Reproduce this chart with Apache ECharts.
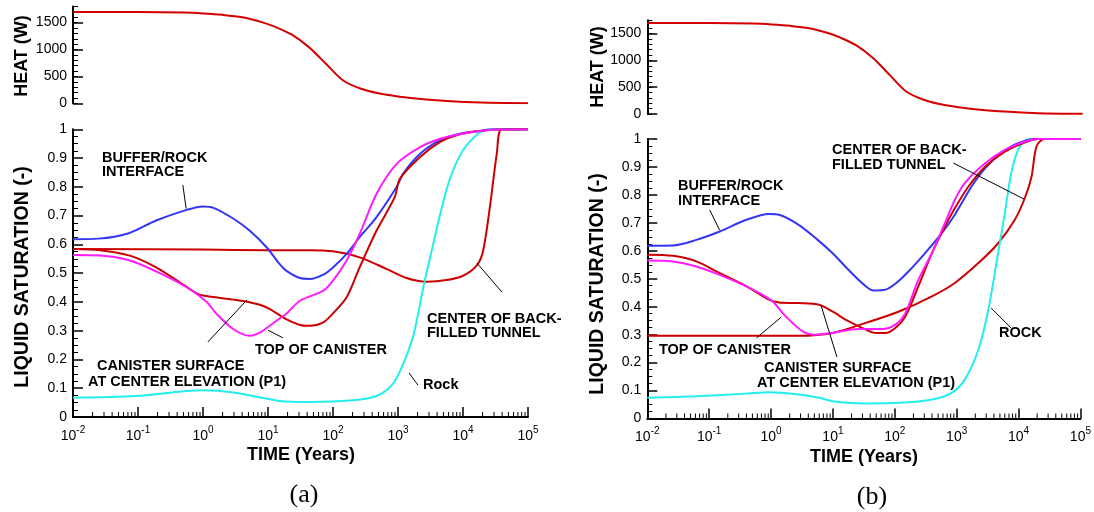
<!DOCTYPE html>
<html>
<head>
<meta charset="utf-8">
<script src="https://cdn.jsdelivr.net/npm/echarts@6/dist/echarts.min.js"></script>
<style>
  html, body { margin: 0; padding: 0; background: #fff; }
  #chart { width: 1094px; height: 512px; }
</style>
</head>
<body>
<div id="chart"></div>
<script>
// ---- Heat output of the canister, W, against time in years (same input for both cases)
const heatCurve = [[0.01,1700],[0.1,1698],[0.5,1688],[1,1672],[2,1645],[4,1600],[8,1510],[13,1420],[23,1280],[43,1040],[80,720],[145,420],[270,270],[500,185],[1000,125],[1700,95],[5600,45],[19000,15],[100000,3]];

// ---- Case (a): liquid saturation, [time (years), saturation]
const aBuffer = [[0.01,0.618],[0.025,0.62],[0.07,0.638],[0.19,0.683],[0.56,0.72],[1.0,0.732],[1.45,0.727],[2.95,0.689],[5.2,0.648],[9.5,0.59],[15,0.532],[19,0.509],[31,0.483],[44,0.48],[71,0.495],[100,0.52],[162,0.567],[257,0.625],[468,0.695],[955,0.8],[1200,0.846],[2190,0.915],[4470,0.962],[8900,0.985],[18200,0.994],[29500,1.0],[100000,1.0]];
const aTop = [[0.01,0.563],[0.026,0.561],[0.075,0.544],[0.19,0.506],[0.56,0.451],[1.14,0.4],[1.62,0.358],[2.95,0.305],[5.25,0.282],[7.6,0.294],[10.7,0.318],[15,0.342],[19,0.358],[31,0.404],[71,0.439],[100,0.474],[162,0.544],[257,0.636],[468,0.776],[955,0.88],[2190,0.938],[4470,0.967],[8900,0.983],[23000,0.997],[100000,1.0]];
const aSurface = [[0.01,0.584],[0.026,0.58],[0.075,0.561],[0.19,0.52],[0.56,0.452],[0.8,0.43],[1.0,0.422],[2.95,0.408],[5.0,0.4],[7.5,0.39],[10.7,0.375],[19,0.34],[31,0.32],[44,0.317],[71,0.329],[100,0.36],[162,0.416],[257,0.52],[468,0.648],[890,0.764],[1070,0.828],[2190,0.904],[4470,0.956],[8900,0.983],[23000,0.997],[100000,1.0]];
const aTunnel = [[0.01,0.584],[1,0.582],[10,0.58],[44,0.58],[100,0.576],[257,0.555],[660,0.515],[1350,0.483],[2750,0.47],[5600,0.476],[10000,0.491],[16200,0.526],[20400,0.578],[26300,0.741],[33100,0.915],[39800,1.0],[100000,1.0]];
const aRock = [[0.01,0.067],[0.09,0.073],[1.0,0.093],[2.95,0.085],[15,0.056],[44,0.052],[200,0.058],[468,0.073],[830,0.114],[1200,0.184],[1740,0.288],[2450,0.45],[2950,0.53],[4470,0.706],[6300,0.828],[10000,0.927],[18200,0.99],[25700,1.0],[100000,1.0]];

// ---- Case (b): liquid saturation, [time (years), saturation]
const bBuffer = [[0.01,0.618],[0.026,0.619],[0.062,0.639],[0.148,0.669],[0.4,0.711],[0.93,0.732],[1.35,0.729],[2.8,0.693],[5.6,0.64],[9.8,0.592],[17.8,0.532],[31.6,0.479],[45.7,0.458],[71,0.461],[102,0.482],[166,0.526],[309,0.592],[575,0.663],[933,0.729],[1740,0.83],[2880,0.895],[5250,0.949],[9800,0.985],[19500,1.0],[100000,1.0]];
const bTop = [[0.01,0.565],[0.026,0.562],[0.062,0.544],[0.148,0.514],[0.4,0.473],[0.72,0.443],[1.06,0.419],[1.74,0.365],[3.24,0.312],[5.25,0.3],[9.8,0.306],[25.7,0.32],[61.7,0.32],[102,0.336],[148,0.377],[240,0.496],[398,0.592],[646,0.699],[933,0.782],[1350,0.842],[2880,0.913],[6000,0.961],[12600,0.99],[20400,1.0],[100000,1.0]];
const bSurface = [[0.01,0.586],[0.026,0.582],[0.062,0.562],[0.148,0.52],[0.4,0.473],[0.93,0.425],[1.35,0.415],[2.8,0.413],[6.0,0.407],[9.8,0.383],[17.8,0.348],[33.9,0.318],[49,0.306],[71,0.306],[102,0.324],[148,0.365],[240,0.473],[398,0.592],[646,0.687],[933,0.752],[1550,0.83],[2880,0.901],[6000,0.955],[12600,0.987],[20400,1.0],[100000,1.0]];
const bTunnel = [[0.01,0.296],[1,0.296],[2.85,0.296],[9.8,0.306],[33.9,0.342],[117,0.383],[398,0.437],[933,0.485],[2240,0.556],[4680,0.627],[8700,0.711],[12600,0.788],[16200,0.865],[19500,0.973],[26300,1.0],[100000,1.0]];
const bRock = [[0.01,0.074],[0.062,0.08],[0.4,0.089],[0.93,0.094],[2.8,0.086],[6.0,0.074],[9.8,0.062],[33.9,0.054],[117,0.056],[398,0.068],[830,0.092],[1350,0.139],[2240,0.246],[3240,0.389],[4680,0.592],[6000,0.735],[7600,0.877],[9800,0.961],[12600,0.994],[16200,1.0],[100000,1.0]];

// ---- Minor tick positions on the logarithmic time axis (2..9 x each decade)
const minorTickYears = [];
for (let e = -2; e <= 4; e++) {
  for (let k = 2; k <= 9; k++) minorTickYears.push(k * Math.pow(10, e));
}

const BLUE = '#3535f5', MAGENTA = '#ff1aff', RED = '#cc0000', CYAN = '#22eeee';
const FONT = '"Liberation Sans", Arial, Helvetica, sans-serif';

const chart = echarts.init(document.getElementById('chart'), null, { renderer: 'canvas' });

function timeAxis(gridIndex, visible) {
  return {
    type: 'log', logBase: 10, min: 0.01, max: 100000, gridIndex: gridIndex,
    show: visible,
    axisLine: { show: true, onZero: false, lineStyle: { color: '#000', width: 2 } },
    axisTick: { show: true, inside: true, length: 10, lineStyle: { color: '#000', width: 1.5 } },
    splitLine: { show: false },
    axisLabel: {
      show: true, margin: 8, color: '#000',
      formatter: function (v) {
        const n = Math.round(Math.log10(v));
        return '{b|10}{s|' + n + '}';
      },
      rich: {
        b: { fontSize: 14, fontFamily: FONT, color: '#000', lineHeight: 18, verticalAlign: 'bottom' },
        s: { fontSize: 10, fontFamily: FONT, color: '#000', lineHeight: 18, verticalAlign: 'top' }
      }
    }
  };
}

function heatMajorAxis(gridIndex, maxW) {
  return {
    type: 'value', gridIndex: gridIndex, position: 'left', min: 0, max: maxW, interval: 500,
    axisLine: { show: true, onZero: false, lineStyle: { color: '#000', width: 2 } },
    axisTick: { show: true, inside: true, length: 10, lineStyle: { color: '#000', width: 1.5 } },
    axisLabel: { show: true, showMaxLabel: false, margin: 6, color: '#000', fontSize: 14, fontFamily: FONT,
      formatter: function (v) { return String(v); } },
    splitLine: { show: false }
  };
}
function heatMinorAxis(gridIndex, maxW) {
  return {
    type: 'value', gridIndex: gridIndex, position: 'left', offset: 0, min: 0, max: maxW, interval: 100,
    axisLine: { show: false },
    axisTick: { show: true, inside: true, length: 5, lineStyle: { color: '#000', width: 1 } },
    axisLabel: { show: false },
    splitLine: { show: false }
  };
}
function satAxis(gridIndex) {
  return {
    type: 'value', gridIndex: gridIndex, position: 'left', min: 0, max: 1, interval: 0.1,
    axisLine: { show: true, onZero: false, lineStyle: { color: '#000', width: 2 } },
    axisTick: { show: true, inside: true, length: 10, lineStyle: { color: '#000', width: 1.5 } },
    minorTick: { show: true, splitNumber: 4, length: 5, lineStyle: { color: '#000', width: 1 } },
    axisLabel: {
      margin: 6, color: '#000', fontSize: 14, fontFamily: FONT,
      formatter: function (v) { return (v === 0 || v === 1) ? String(v) : v.toFixed(1); }
    },
    splitLine: { show: false }
  };
}

function curve(data, color, xi, yi) {
  return {
    type: 'line', data: data, xAxisIndex: xi, yAxisIndex: yi,
    showSymbol: false, smooth: 0.3, silent: true,
    lineStyle: { color: color, width: 2 }, z: 3
  };
}
function minorTicks(xi, yi) {
  return {
    type: 'custom', xAxisIndex: xi, yAxisIndex: yi, silent: true, clip: false, z: 5,
    data: minorTickYears.map(function (t) { return [t, 0]; }),
    renderItem: function (params, api) {
      const p = api.coord([api.value(0), 0]);
      return {
        type: 'line',
        shape: { x1: p[0], y1: p[1], x2: p[0], y2: p[1] - 5 },
        style: { stroke: '#000', lineWidth: 1 }
      };
    }
  };
}

chart.setOption({
  animation: false,
  backgroundColor: '#fff',
  grid: [
    { left: 73, top: 6.5, width: 455, height: 96.8 },
    { left: 73, top: 129.3, width: 455, height: 287.7 },
    { left: 647.3, top: 20.2, width: 435.4, height: 93.8 },
    { left: 647.3, top: 139, width: 435.4, height: 279.5 }
  ],
  xAxis: [timeAxis(0, false), timeAxis(1, true), timeAxis(2, false), timeAxis(3, true)],
  yAxis: [
    heatMajorAxis(0, 1800), heatMinorAxis(0, 1800), satAxis(1),
    heatMajorAxis(2, 1750), heatMinorAxis(2, 1750), satAxis(3)
  ],
  series: [
    curve(heatCurve, '#d40000', 0, 0),
    curve(aTunnel, RED, 1, 2),
    curve(aRock, CYAN, 1, 2),
    curve(aBuffer, BLUE, 1, 2),
    curve(aSurface, RED, 1, 2),
    curve(aTop, MAGENTA, 1, 2),
    minorTicks(1, 2),
    curve(heatCurve, '#d40000', 2, 3),
    curve(bTunnel, RED, 3, 5),
    curve(bRock, CYAN, 3, 5),
    curve(bBuffer, BLUE, 3, 5),
    curve(bSurface, RED, 3, 5),
    curve(bTop, MAGENTA, 3, 5),
    minorTicks(3, 5)
  ]
});

// ---- Annotations: curve names with leader lines (leader ends given in data space)
const labelFont = { fontSize: 14.5, fontWeight: 'bold', fontFamily: FONT, fill: '#000' };
function label(text, x, y, extra) {
  return { type: 'text', x: x, y: y, silent: true, z: 10,
    style: Object.assign({ text: text, align: 'left', verticalAlign: 'middle' }, labelFont, extra || {}) };
}
function leader(xi, yi, from, to) {
  const a = chart.convertToPixel({ xAxisIndex: xi, yAxisIndex: yi }, from);
  const b = chart.convertToPixel({ xAxisIndex: xi, yAxisIndex: yi }, to);
  return { type: 'line', silent: true, z: 10,
    shape: { x1: a[0], y1: a[1], x2: b[0], y2: b[1] },
    style: { stroke: '#000', lineWidth: 1 } };
}
function vTitle(text, x, y, size) {
  return { type: 'text', x: x, y: y, rotation: Math.PI / 2, silent: true,
    style: { text: text, align: 'center', verticalAlign: 'middle', fontSize: size, fontWeight: 'bold', fontFamily: FONT, fill: '#000' } };
}
function hTitle(text, x, y) {
  return { type: 'text', x: x, y: y, silent: true,
    style: { text: text, align: 'center', verticalAlign: 'middle', fontSize: 18, fontWeight: 'bold', fontFamily: FONT, fill: '#000' } };
}
function caption(text, x, y) {
  return { type: 'text', x: x, y: y, silent: true,
    style: { text: text, align: 'center', verticalAlign: 'middle', fontSize: 26, fontFamily: '"Liberation Serif", "Times New Roman", serif', fill: '#000' } };
}

chart.setOption({
  graphic: [
    // axis titles and captions
    vTitle('HEAT (W)', 22, 56, 18),
    vTitle('LIQUID SATURATION (-)', 23, 277, 19.5),
    vTitle('HEAT (W)', 598, 67, 18),
    vTitle('LIQUID SATURATION (-)', 598, 284, 19.5),
    hTitle('TIME (Years)', 301, 455),
    hTitle('TIME (Years)', 864, 457),
    caption('(a)', 304, 495),
    caption('(b)', 872, 497),

    // case (a) labels
    label('BUFFER/ROCK', 102, 158), label('INTERFACE', 102, 172),
    label('CANISTER SURFACE', 97, 366), label('AT CENTER ELEVATION (P1)', 88, 382),
    label('TOP OF CANISTER', 255, 350),
    label('CENTER OF BACK-', 427, 319), label('FILLED TUNNEL', 427, 333),
    label('Rock', 423, 385),
    leader(1, 2, [0.49, 0.806], [0.55, 0.725]),
    leader(1, 2, [1.19, 0.261], [4.75, 0.407]),
    leader(1, 2, [10, 0.302], [17, 0.275]),
    leader(1, 2, [16400, 0.535], [39800, 0.434]),
    leader(1, 2, [1476, 0.153], [2030, 0.111]),

    // case (b) labels
    label('BUFFER/ROCK', 678, 186), label('INTERFACE', 678, 201),
    label('TOP OF CANISTER', 659, 350),
    label('CANISTER SURFACE', 764, 368), label('AT CENTER ELEVATION (P1)', 757, 383),
    label('CENTER OF BACK-', 832, 150), label('FILLED TUNNEL', 832, 165),
    label('ROCK', 999, 333),
    leader(3, 5, [0.102, 0.746], [0.1476, 0.674]),
    leader(3, 5, [0.58, 0.288], [1.47, 0.363]),
    leader(3, 5, [6.4, 0.406], [11.6, 0.22]),
    leader(3, 5, [885, 0.914], [12250, 0.785]),
    leader(3, 5, [3610, 0.395], [7570, 0.324])
  ]
});
</script>
</body>
</html>
